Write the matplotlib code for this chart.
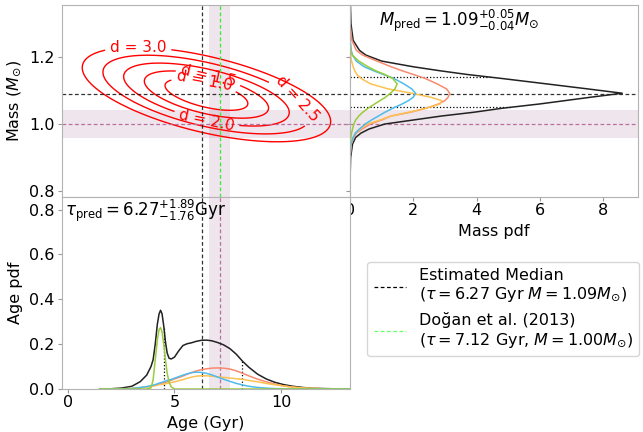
import numpy as np
import matplotlib
matplotlib.use('Agg')
import matplotlib.pyplot as plt
from matplotlib.lines import Line2D

# estimated medians and 1-sigma errors
age_med, age_err_lo, age_err_hi = 6.27, 1.76, 1.89
mass_med, mass_err_lo, mass_err_hi = 1.09, 0.04, 0.05

# literature value (Dogan et al. 2013)
lit_age, lit_age_err = 7.12, 0.48
lit_mass, lit_mass_err = 1.00, 0.042

# joint age-mass gaussian used for the distance contours
ell_center = [6.5, 1.088]
ell_sigma = [1.94, 0.047]
ell_rho = -0.57
d_levels = [1.0, 1.5, 2.0, 2.5, 3.0]
# (level, age, upper branch?) where each contour gets its label
d_label_spots = [(1.0, 6.4, True), (1.5, 6.6, True), (2.0, 6.5, False),
                 (2.5, 10.77, True), (3.0, 3.3, True)]

# age pdfs: total (black) and the four components
age_grid = [1.5, 2.0, 2.5, 3.0, 3.4, 3.7, 3.9, 4.0, 4.1, 4.2, 4.28, 4.35, 4.42, 4.5, 4.58,
            4.66, 4.75, 4.85, 5.0, 5.2, 5.4, 5.6, 5.8, 6.0, 6.25, 6.5, 6.75, 7.0, 7.3, 7.6,
            7.9, 8.2, 8.5, 8.9, 9.3, 9.7, 10.1, 10.5, 11.0, 11.5, 12.0, 12.5, 13.0, 13.5]
age_pdf_total = [0.0, 0.001, 0.004, 0.012, 0.033, 0.062, 0.1, 0.13, 0.2, 0.29, 0.335, 0.351,
                 0.335, 0.28, 0.21, 0.16, 0.137, 0.134, 0.142, 0.17, 0.194, 0.202, 0.206,
                 0.212, 0.217, 0.218, 0.215, 0.208, 0.197, 0.18, 0.155, 0.123, 0.096, 0.066,
                 0.045, 0.03, 0.02, 0.013, 0.007, 0.003, 0.002, 0.001, 0.0, 0.0]
age_pdf_red = [0.0, 0.0, 0.0, 0.001, 0.005, 0.009, 0.013, 0.015, 0.017, 0.02, 0.022, 0.023,
               0.025, 0.028, 0.03, 0.032, 0.036, 0.039, 0.045, 0.051, 0.058, 0.066, 0.073,
               0.08, 0.086, 0.09, 0.093, 0.094, 0.093, 0.089, 0.081, 0.07, 0.058, 0.044,
               0.032, 0.022, 0.014, 0.009, 0.004, 0.002, 0.001, 0.0, 0.0, 0.0]
age_pdf_orange = [0.0, 0.0, 0.001, 0.003, 0.006, 0.009, 0.012, 0.013, 0.015, 0.017, 0.019,
                  0.02, 0.021, 0.022, 0.023, 0.025, 0.027, 0.029, 0.032, 0.037, 0.042, 0.048,
                  0.053, 0.057, 0.059, 0.059, 0.057, 0.055, 0.052, 0.049, 0.046, 0.043, 0.038,
                  0.032, 0.025, 0.019, 0.014, 0.009, 0.005, 0.003, 0.001, 0.0, 0.0, 0.0]
age_pdf_blue = [0.0, 0.0, 0.0, 0.002, 0.007, 0.011, 0.015, 0.017, 0.02, 0.023, 0.026, 0.028,
                0.03, 0.033, 0.035, 0.038, 0.04, 0.043, 0.048, 0.055, 0.062, 0.068, 0.073,
                0.075, 0.074, 0.07, 0.063, 0.054, 0.044, 0.034, 0.025, 0.018, 0.012, 0.007,
                0.004, 0.002, 0.001, 0.0, 0.0, 0.0, 0.0, 0.0, 0.0, 0.0]
age_pdf_green = [0.0, 0.0, 0.0, 0.0, 0.0, 0.0, 0.005, 0.04, 0.13, 0.22, 0.265, 0.274, 0.255,
                 0.2, 0.13, 0.07, 0.03, 0.01, 0.0, 0.0, 0.0, 0.0, 0.0, 0.0, 0.0, 0.0, 0.0,
                 0.0, 0.0, 0.0, 0.0, 0.0, 0.0, 0.0, 0.0, 0.0, 0.0, 0.0, 0.0, 0.0, 0.0, 0.0,
                 0.0, 0.0]

# mass pdfs
mass_grid = [0.827, 0.9, 0.94, 0.96, 0.973, 0.985, 1.0, 1.012, 1.024, 1.035, 1.047, 1.06,
             1.07, 1.08, 1.092, 1.105, 1.12, 1.136, 1.148, 1.159, 1.171, 1.188, 1.206,
             1.22, 1.25, 1.3, 1.4]
mass_pdf_total = [0.0, 0.02, 0.08, 0.18, 0.35, 0.6, 1.1, 2.0, 2.9, 3.9, 4.8, 6.0, 6.8, 7.6,
                  8.6, 7.5, 6.2, 4.8, 3.7, 2.85, 2.0, 1.0, 0.5, 0.3, 0.1, 0.03, 0.0]
mass_pdf_red = [0.0, 0.0, 0.04, 0.12, 0.2, 0.38, 0.64, 1.0, 1.3, 1.9, 2.4, 2.8, 3.0, 3.1,
                3.15, 3.05, 2.75, 2.38, 2.0, 1.65, 1.3, 0.85, 0.4, 0.2, 0.06, 0.0, 0.0]
mass_pdf_orange = [0.0, 0.0, 0.03, 0.1, 0.17, 0.33, 0.55, 0.95, 1.3, 1.85, 2.4, 2.85, 2.9,
                   2.55, 1.95, 1.2, 0.65, 0.35, 0.22, 0.15, 0.1, 0.05, 0.02, 0.01, 0.0, 0.0, 0.0]
mass_pdf_blue = [0.0, 0.0, 0.03, 0.1, 0.17, 0.3, 0.48, 0.68, 0.9, 1.1, 1.35, 1.65, 1.85, 2.0,
                 2.07, 1.95, 1.7, 1.39, 1.05, 0.75, 0.45, 0.2, 0.08, 0.04, 0.01, 0.0, 0.0]
mass_pdf_green = [0.0, 0.0, 0.01, 0.03, 0.05, 0.08, 0.12, 0.18, 0.28, 0.4, 0.57, 0.78, 0.95,
                  1.12, 1.28, 1.42, 1.49, 1.35, 1.1, 0.82, 0.57, 0.28, 0.07, 0.03, 0.0, 0.0, 0.0]

comp_colors = ['#f98a70', '#fdc24f', '#4dbcea', '#98cc3a']

plt.rcParams['font.size'] = 11.5
plt.rcParams['axes.edgecolor'] = '0.7'
plt.rcParams['xtick.color'] = '0.6'
plt.rcParams['ytick.color'] = '0.6'
plt.rcParams['xtick.labelcolor'] = 'black'
plt.rcParams['ytick.labelcolor'] = 'black'
plt.rcParams['xtick.major.size'] = 3
plt.rcParams['ytick.major.size'] = 3
plt.rcParams['xtick.major.pad'] = 1.5
plt.rcParams['ytick.major.pad'] = 2.5

band_col = (0.6, 0.33, 0.5, 0.15)
lit_col = '#b86f9e'
dash = (0, (3, 2))


def on_ellipse(level, age, upper):
    """point of the distance contour `level` at a given age"""
    u = (age - ell_center[0]) / ell_sigma[0]
    s = np.sqrt(level**2 - u**2) * np.sqrt(1 - ell_rho**2)
    v = ell_rho * u + (s if upper else -s)
    return age, ell_center[1] + v * ell_sigma[1]


fig = plt.figure(figsize=(6.43, 4.32), dpi=100)
ax_2d = fig.add_axes([0.0964, 0.544, 0.448, 0.444])
ax_m = fig.add_axes([0.5443, 0.544, 0.448, 0.444])
ax_a = fig.add_axes([0.0964, 0.0995, 0.448, 0.444])

xlim_age = (-0.27, 13.23)
ylim_mass = (0.782, 1.355)

# ---- age-mass plane
A, M = np.meshgrid(np.linspace(xlim_age[0], xlim_age[1], 500),
                   np.linspace(ylim_mass[0], ylim_mass[1], 500))
u = (A - ell_center[0]) / ell_sigma[0]
v = (M - ell_center[1]) / ell_sigma[1]
D = np.sqrt((u**2 + v**2 - 2 * ell_rho * u * v) / (1 - ell_rho**2))
cs = ax_2d.contour(A, M, D, levels=d_levels, colors='red', linewidths=1)
ax_2d.clabel(cs, fmt={lv: 'd = %.1f' % lv for lv in d_levels},
             manual=[on_ellipse(*s) for s in d_label_spots], fontsize=11, inline=True)
ax_2d.axvspan(lit_age - lit_age_err, lit_age + lit_age_err, color=band_col, lw=0)
ax_2d.axhspan(lit_mass - lit_mass_err, lit_mass + lit_mass_err, color=band_col, lw=0)
ax_2d.axvline(age_med, color='k', ls=dash, lw=0.9, alpha=0.8)
ax_2d.axhline(mass_med, color='k', ls=dash, lw=0.9, alpha=0.8)
ax_2d.axhline(lit_mass, color=lit_col, ls=dash, lw=0.9)
ax_2d.axvline(lit_age, color='#33ee33', ls=dash, lw=0.9)
ax_2d.set_xlim(xlim_age)
ax_2d.set_ylim(ylim_mass)
ax_2d.set_yticks([0.8, 1.0, 1.2])
ax_2d.tick_params(labelbottom=False)
ax_2d.set_ylabel(r'Mass ($M_{\odot}$)')

# ---- mass pdf
ax_m.axhspan(lit_mass - lit_mass_err, lit_mass + lit_mass_err, color=band_col, lw=0)
ax_m.axhline(lit_mass, color=lit_col, ls=dash, lw=0.9)
ax_m.axhline(mass_med, color='k', ls=dash, lw=0.9, alpha=0.8)
for q in [mass_med - mass_err_lo, mass_med + mass_err_hi]:
    ax_m.plot([0, np.interp(q, mass_grid, mass_pdf_total)], [q, q], color='k', ls=':', lw=0.9)
ax_m.plot(mass_pdf_total, mass_grid, color='#222222', lw=1.1)
for pdf, c in zip([mass_pdf_red, mass_pdf_orange, mass_pdf_blue, mass_pdf_green], comp_colors):
    ax_m.plot(pdf, mass_grid, color=c, lw=1.1)
ax_m.set_xlim(0, 9.1)
ax_m.set_ylim(ylim_mass)
ax_m.set_xticks([0, 2, 4, 6, 8])
ax_m.set_yticks([0.8, 1.0, 1.2])
ax_m.tick_params(labelleft=False)
ax_m.set_xlabel('Mass pdf')
ax_m.text(0.1, 0.985, r'$M_{\rm pred} = 1.09^{+0.05}_{-0.04}M_{\odot}$',
          transform=ax_m.transAxes, ha='left', va='top', fontsize=12)

# ---- age pdf
ax_a.axvspan(lit_age - lit_age_err, lit_age + lit_age_err, color=band_col, lw=0)
ax_a.axvline(lit_age, color=lit_col, ls=dash, lw=0.9)
ax_a.axvline(age_med, color='k', ls=dash, lw=0.9, alpha=0.8)
for q in [age_med - age_err_lo, age_med + age_err_hi]:
    ax_a.plot([q, q], [0, np.interp(q, age_grid, age_pdf_total)], color='k', ls=':', lw=0.9)
ax_a.plot(age_grid, age_pdf_total, color='#222222', lw=1.1)
for pdf, c in zip([age_pdf_red, age_pdf_orange, age_pdf_blue, age_pdf_green], comp_colors):
    ax_a.plot(age_grid, pdf, color=c, lw=1.1)
ax_a.set_xlim(xlim_age)
ax_a.set_ylim(0, 0.855)
ax_a.set_xticks([0, 5, 10])
ax_a.set_yticks([0.0, 0.2, 0.4, 0.6, 0.8])
ax_a.set_xlabel('Age (Gyr)')
ax_a.set_ylabel('Age pdf')
ax_a.text(0.01, 0.995, r'$\tau_{\rm pred} = 6.27^{+1.89}_{-1.76}$Gyr',
          transform=ax_a.transAxes, ha='left', va='top', fontsize=12)

handles = [Line2D([], [], color='k', ls=dash, lw=0.9),
           Line2D([], [], color='#66ff66', ls=dash, lw=0.9)]
labels = ['Estimated Median\n' + r'($\tau = 6.27$ Gyr $M = 1.09M_{\odot}$)',
          'Doğan et al. (2013)\n' + r'($\tau = 7.12$ Gyr, $M = 1.00M_{\odot}$)']
fig.legend(handles, labels, loc='upper left', bbox_to_anchor=(0.559, 0.413),
           fontsize=11.5, handlelength=2.0)

fig.savefig('out.png', dpi=100)
